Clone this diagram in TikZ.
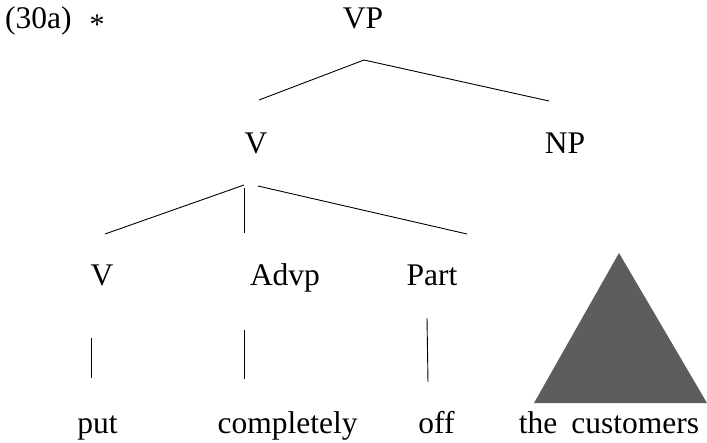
\documentclass[tikz,border=0pt]{standalone}
\usepackage{fontspec}
\setmainfont{Liberation Serif}
\begin{document}
\begin{tikzpicture}[x=1pt,y=-1pt,
  lbl/.style={anchor=base,inner sep=0pt,font=\fontsize{31.5}{36}\selectfont},
  branch/.style={line width=0.9pt,black},
  tri/.style={fill=triGray,draw=none}]
\definecolor{triGray}{HTML}{5D5D5D}
\useasboundingbox (0,0) rectangle (707,442);
% labels
\node[lbl,anchor=base west] (ex) at (5,28) {(30a)};
\node[lbl] (star) at (97,28) {\raisebox{-0.22em}{\scalebox{0.95}{*}}};
\node[lbl] (VP) at (363,28) {VP};
\node[lbl] (V1) at (256,153) {V};
\node[lbl] (NP) at (565,153) {NP};
\node[lbl] (V2) at (102,285) {V};
\node[lbl] (Advp) at (285,285) {Advp};
\node[lbl] (Part) at (432,285) {Part};
\node[lbl] (put) at (97.5,433) {put};
\node[lbl] (compl) at (287.5,433) {completely};
\node[lbl] (off) at (436.5,433) {off};
\node[lbl] (cust) at (609,433) {the\hspace{0.45em}customers};
% branch end points
\coordinate (vpTop) at (364,60);
\coordinate (vpL) at (259,100);
\coordinate (vpR) at (549,101);
\coordinate (vTop) at (244,185);
\coordinate (vTopV) at (244,188);
\coordinate (vTopR) at (258,186);
\coordinate (vL) at (105,234);
\coordinate (vM) at (244,233);
\coordinate (vR) at (467,234);
\coordinate (putTop) at (91,338);
\coordinate (putBot) at (91,378);
\coordinate (advTop) at (244,330);
\coordinate (advBot) at (244,379);
\coordinate (partTop) at (427,318);
\coordinate (partBot) at (428,382);
\coordinate (triApex) at (619,253);
\coordinate (triL) at (534,403);
\coordinate (triR) at (707,403);
% branches
\draw[branch] (vpL) -- (vpTop) -- (vpR);
\draw[branch] (vL) -- (vTop);
\draw[branch] (vTopV) -- (vM);
\draw[branch] (vTopR) -- (vR);
\draw[branch] (putTop) -- (putBot);
\draw[branch] (advTop) -- (advBot);
\draw[branch] (partTop) -- (partBot);
% triangle
\path[tri] (triApex) -- (triR) -- (triL) -- cycle;
\end{tikzpicture}
\end{document}
